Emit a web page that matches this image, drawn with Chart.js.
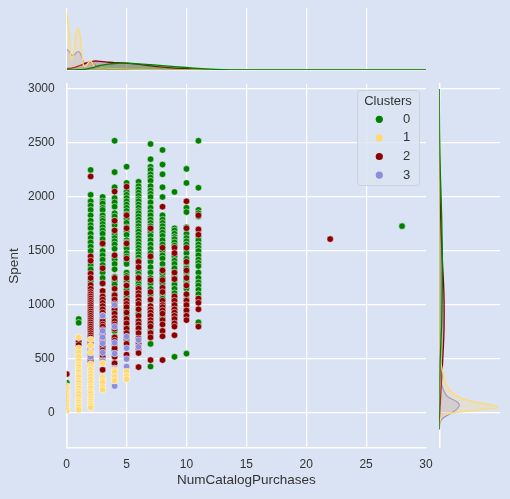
<!DOCTYPE html>
<html>
<head>
<meta charset="utf-8">
<script src="https://cdn.jsdelivr.net/npm/chart.js@4.4.1/dist/chart.umd.min.js"></script>
<style>
  html, body { margin: 0; padding: 0; background: #DAE3F3; }
  #wrap { position: relative; width: 510px; height: 499px; }
  #wrap canvas { position: absolute; left: 0; top: 0; }
</style>
</head>
<body>
<div id="wrap">
  <canvas id="main" width="510" height="499"></canvas>
  <canvas id="top" width="510" height="499"></canvas>
  <canvas id="side" width="510" height="499"></canvas>
</div>
<script>
const xTicks = [0, 5, 10, 15, 20, 25, 30];
const yTicks = [0, 500, 1000, 1500, 2000, 2500, 3000];
const clusterNames = ["0", "1", "2", "3"];
const clusterColors = ["#008000", "#FFD972", "#8B0000", "#8C8CDA"];

// NumCatalogPurchases -> list of Spent values, per cluster
const cluster0 = [
  [0, [280]],
  [1, [870, 835]],
  [2, [2250, 2020, 1960, 1920, 1880, 1830, 1780, 1740, 1710, 1660, 1620, 1580, 1540, 1500, 1370, 1330, 1220, 1160, 1000, 940, 830, 780, 700]],
  [3, [2000, 1960, 1940, 1900, 1880, 1830, 1800, 1780, 1750, 1720, 1690, 1660, 1610, 1560, 1500, 1460, 1420, 1370, 1300, 1250, 1200, 1130, 1050, 980, 920, 840, 760]],
  [4, [2520, 2230, 2090, 1990, 1950, 1910, 1850, 1820, 1780, 1740, 1690, 1650, 1620, 1590, 1560, 1520, 1450, 1420, 1380, 1330, 1260, 1220, 1190, 1100, 1060, 1020, 950, 880, 840, 760, 700, 580]],
  [5, [2280, 2130, 2050, 2020, 1990, 1960, 1930, 1900, 1870, 1840, 1800, 1760, 1720, 1680, 1650, 1600, 1580, 1540, 1520, 1480, 1450, 1400, 1380, 1300, 1270, 1220, 1180, 1140, 1080, 1040, 990, 950, 900, 840, 800, 760, 680]],
  [6, [2140, 2100, 2070, 2040, 2010, 1980, 1960, 1930, 1900, 1870, 1850, 1820, 1790, 1760, 1730, 1700, 1680, 1650, 1620, 1590, 1560, 1530, 1500, 1470, 1440, 1410, 1380, 1320, 1290, 1260, 1230, 1200, 1170, 1140, 1110, 1080, 1000, 960, 920, 860, 780]],
  [7, [2490, 2350, 2280, 2250, 2210, 2180, 2150, 2100, 2060, 2030, 2000, 1950, 1900, 1860, 1830, 1790, 1760, 1730, 1700, 1670, 1640, 1600, 1560, 1520, 1480, 1440, 1400, 1350, 1300, 1250, 1200, 1150, 1100, 1040, 960, 920, 880, 820, 760, 640, 430]],
  [8, [2435, 2300, 2210, 2090, 2000, 1830, 1790, 1760, 1730, 1700, 1670, 1640, 1600, 1560, 1500, 1460, 1430, 1380, 1330, 1290, 1250, 1200, 1150, 1100, 1060, 1010, 960, 880]],
  [9, [2046, 1710, 1690, 1660, 1630, 1610, 1580, 1550, 1450, 1410, 1380, 1340, 1300, 1260, 1230, 1190, 1150, 1110, 1070, 1040, 1000, 960, 930, 880, 520]],
  [10, [2260, 2130, 1900, 1860, 1720, 1660, 1620, 1590, 1560, 1520, 1480, 1430, 1380, 1340, 1300, 1260, 1220, 1190, 1150, 1100, 1050, 1000, 950, 900, 550]],
  [11, [2520, 2085, 1880, 1850, 1820, 1630, 1600, 1560, 1530, 1500, 1460, 1420, 1390, 1360, 1300, 1250, 1210, 1180, 1140, 1100, 1060, 1030, 840, 800]],
  [28, [1730]]
];
const cluster1 = [
  [0, [250, 230, 200, 180, 160, 140, 120, 100, 80, 60, 40, 20]],
  [1, [700, 600, 560, 520, 480, 450, 430, 400, 380, 350, 330, 300, 280, 250, 230, 200, 180, 150, 120, 100, 75, 55, 30]],
  [2, [680, 620, 560, 450, 420, 400, 370, 340, 310, 280, 250, 230, 200, 180, 150, 130, 110, 90, 70, 50]],
  [3, [460, 330, 300, 280, 240, 215]],
  [4, [400, 380, 335, 300]],
  [5, [383, 340, 313]]
];
const cluster2 = [
  [0, [360]],
  [1, [660, 630, 560]],
  [2, [2190, 1450, 1410, 1290, 1250, 1185, 1150, 1120, 1100, 1080, 1060, 1040, 1020, 1000, 980, 960, 940, 920, 900, 880, 860, 840, 820, 800, 780, 760, 740, 720, 700, 680, 660, 640, 620, 600, 580, 560, 540, 520, 500, 480, 460, 440]],
  [3, [1570, 1340, 1200, 1130, 1080, 1050, 1020, 990, 960, 930, 900, 870, 850, 820, 800, 770, 740, 710, 690, 660, 640, 610, 580, 550, 520, 490, 470, 400]],
  [4, [2050, 1780, 1690, 1460, 1250, 1150, 1090, 1050, 1010, 985, 960, 920, 880, 850, 820, 780, 700, 670, 640, 600, 520, 460]],
  [5, [2095, 1830, 1710, 1570, 1430, 1250, 1180, 1110, 1040, 1010, 980, 930, 870, 830, 780, 740, 700, 640, 540]],
  [6, [1400, 1350, 1250, 1150, 1110, 1080, 1040, 1010, 960, 900, 850, 820, 785, 740, 690, 640, 600, 555, 425]],
  [7, [1710, 1450, 1230, 1120, 1050, 990, 960, 930, 900, 860, 830, 800, 740, 700, 490]],
  [8, [1910, 1530, 1320, 1230, 1160, 1120, 1040, 1000, 980, 950, 920, 860, 820, 760, 710, 490]],
  [9, [1530, 1480, 1300, 1240, 1080, 1040, 1000, 960, 930, 900, 870, 830, 800, 720]],
  [10, [1960, 1710, 1530, 1400, 1320, 1250, 1180, 1100, 1040, 1000, 950, 900, 860]],
  [11, [1830, 1700, 1650, 1060, 1020, 960, 800]],
  [22, [1610]]
];
const cluster3 = [
  [0, [210, 170, 140, 90, 60]],
  [1, [580, 550, 520, 470, 300, 250, 150, 90, 60]],
  [2, [600, 520, 380, 300, 190, 160, 140, 100]],
  [3, [900, 760, 700, 645, 560, 480]],
  [4, [1000, 800, 650, 550, 414, 250]],
  [5, [707, 600, 500, 430]],
  [6, [676, 614]]
];

// marginal KDE curves
const topGrid = [0, 0.2, 0.4, 0.6, 0.8, 1, 1.2, 1.4, 1.6, 1.8, 2, 2.2, 2.4, 2.7, 3, 3.5, 4, 4.5, 5, 6, 7, 8, 9, 10, 11, 12, 13, 14, 16, 20, 25, 30];
const topKde0 = [0, 0.001, 0.002, 0.003, 0.004, 0.005, 0.007, 0.01, 0.015, 0.022, 0.03, 0.04, 0.05, 0.07, 0.08, 0.095, 0.105, 0.11, 0.11, 0.1, 0.085, 0.07, 0.055, 0.04, 0.025, 0.013, 0.006, 0.003, 0.001, 0, 0, 0];
const topKde1 = [0.94, 0.6, 0.16, 0.3, 0.6, 0.67, 0.42, 0.08, 0.06, 0.12, 0.145, 0.1, 0.04, 0.03, 0.035, 0.025, 0.02, 0.02, 0.015, 0.01, 0.005, 0.003, 0, 0, 0, 0, 0, 0, 0, 0, 0, 0];
const topKde2 = [0.02, 0.025, 0.03, 0.04, 0.05, 0.065, 0.08, 0.095, 0.11, 0.125, 0.135, 0.14, 0.145, 0.14, 0.135, 0.125, 0.12, 0.115, 0.11, 0.09, 0.065, 0.045, 0.03, 0.02, 0.012, 0.006, 0.003, 0.001, 0, 0, 0, 0];
const topKde3 = [0.335, 0.3, 0.24, 0.24, 0.28, 0.295, 0.24, 0.13, 0.11, 0.125, 0.13, 0.11, 0.07, 0.04, 0.03, 0.02, 0.015, 0.008, 0.004, 0.001, 0, 0, 0, 0, 0, 0, 0, 0, 0, 0, 0, 0];

const sideGrid = [-150, -100, -50, 0, 25, 50, 75, 100, 150, 200, 250, 300, 400, 500, 600, 700, 800, 1000, 1200, 1400, 1600, 1800, 2000, 2200, 2400, 2600, 2800, 3000];
const sideKde0 = [0, 0, 0, 0, 0, 0, 0, 0, 0, 0.001, 0.002, 0.004, 0.01, 0.015, 0.022, 0.03, 0.038, 0.045, 0.05, 0.05, 0.046, 0.04, 0.03, 0.018, 0.01, 0.005, 0.002, 0.001];
const sideKde1 = [0, 0.005, 0.03, 0.2, 0.6, 0.97, 0.85, 0.6, 0.31, 0.19, 0.13, 0.09, 0.05, 0.012, 0.005, 0.002, 0, 0, 0, 0, 0, 0, 0, 0, 0, 0, 0, 0];
const sideKde2 = [0, 0, 0.002, 0.008, 0.01, 0.012, 0.015, 0.018, 0.022, 0.027, 0.032, 0.037, 0.047, 0.057, 0.066, 0.074, 0.079, 0.08, 0.07, 0.052, 0.036, 0.023, 0.013, 0.006, 0.002, 0.001, 0, 0];
const sideKde3 = [0.002, 0.008, 0.05, 0.2, 0.27, 0.31, 0.33, 0.3, 0.14, 0.08, 0.045, 0.03, 0.015, 0.007, 0.003, 0.001, 0, 0, 0, 0, 0, 0, 0, 0, 0, 0, 0, 0];

Chart.defaults.font.family = '"Liberation Sans", Arial, sans-serif';
Chart.defaults.font.size = 12;
Chart.defaults.color = "#333";

const clusters = [cluster0, cluster1, cluster2, cluster3];
const drawOrder = [4, 1, 3, 2]; // green at the back
const toPoints = cols => cols.flatMap(([x, ys]) => ys.map(y => ({ x: x, y: y })));
function fade(hex, a) {
  const n = parseInt(hex.slice(1), 16);
  return "rgba(" + (n >> 16) + "," + ((n >> 8) & 255) + "," + (n & 255) + "," + a + ")";
}
const setTicks = vals => s => { s.ticks = vals.map(v => ({ value: v })); };
const plain = v => String(v);

const legendBox = {
  id: "legendBox",
  afterDraw(chart) {
    const ctx = chart.ctx;
    ctx.save();
    ctx.beginPath();
    ctx.roundRect(357.5, 90.5, 62, 95, 3);
    ctx.fillStyle = "rgba(218,227,243,0.8)";
    ctx.fill();
    ctx.strokeStyle = "#cdd1d8";
    ctx.lineWidth = 1;
    ctx.stroke();
    ctx.fillStyle = "#333";
    ctx.font = '13px "Liberation Sans", Arial, sans-serif';
    ctx.textAlign = "center";
    ctx.textBaseline = "middle";
    ctx.fillText("Clusters", 388, 101);
    chart.data.datasets.forEach((ds, i) => {
      const y = 119.3 + i * 18.6;
      ctx.beginPath();
      ctx.arc(379.3, y, 3.6, 0, Math.PI * 2);
      ctx.fillStyle = ds.backgroundColor;
      ctx.fill();
      ctx.fillStyle = "#333";
      ctx.fillText(ds.label, 406.5, y);
    });
    ctx.restore();
  }
};

new Chart(document.getElementById("main"), {
  type: "scatter",
  data: {
    datasets: clusters.map((c, i) => ({
      label: clusterNames[i],
      data: toPoints(c),
      backgroundColor: clusterColors[i],
      borderColor: "rgba(255,255,255,0.85)",
      borderWidth: 0.6,
      pointRadius: 3.3,
      order: drawOrder[i],
      clip: 0,
    })),
  },
  options: {
    responsive: false,
    animation: false,
    layout: { padding: { left: 0, right: 84, top: 84, bottom: 0 } },
    plugins: { legend: { display: false }, tooltip: { enabled: false } },
    scales: {
      x: {
        type: "linear",
        min: 0,
        max: 30,
        afterBuildTicks: setTicks(xTicks),
        afterFit: s => { s.height = 51; },
        grid: {
          color: c => (c.tick && c.tick.value === 30 ? "rgba(0,0,0,0)" : "#fff"),
          lineWidth: 1.2,
          drawTicks: false,
        },
        border: { color: "#fff", width: 1.5 },
        ticks: { padding: 9, callback: plain },
        title: {
          display: true,
          text: "NumCatalogPurchases",
          font: { size: 13.5 },
          padding: { top: 0, bottom: 11 },
        },
      },
      y: {
        min: -324,
        max: 3046,
        afterBuildTicks: setTicks(yTicks),
        afterFit: s => { s.width = 66.7; },
        grid: { color: "#fff", lineWidth: 1.2, drawTicks: false },
        border: { color: "#fff", width: 1.5 },
        ticks: { padding: 12, callback: plain },
        title: {
          display: true,
          text: "Spent",
          font: { size: 13.5 },
          padding: { top: 6, bottom: 0 },
        },
      },
    },
  },
  plugins: [legendBox],
});

const topCurves = [topKde0, topKde1, topKde2, topKde3];
new Chart(document.getElementById("top"), {
  type: "line",
  data: {
    datasets: topCurves.map((d, i) => ({
      data: topGrid.map((x, k) => ({ x: x, y: d[k] })),
      borderColor: clusterColors[i],
      backgroundColor: fade(clusterColors[i], 0.25),
      fill: "origin",
      borderWidth: 1.3,
      pointRadius: 0,
      cubicInterpolationMode: "monotone",
    })),
  },
  options: {
    responsive: false,
    animation: false,
    layout: { padding: { left: 66.7, right: 84, top: 8, bottom: 429 } },
    plugins: { legend: { display: false }, tooltip: { enabled: false } },
    scales: {
      x: {
        type: "linear",
        min: 0,
        max: 30,
        afterBuildTicks: setTicks([0, 5, 10, 15, 20, 25]),
        afterFit: s => { s.height = 0; },
        grid: { color: "#fff", lineWidth: 1.2, drawTicks: false },
        border: { color: "#fff", width: 1.5 },
        ticks: { display: false },
      },
      y: { display: false, min: 0, max: 1 },
    },
  },
});

const sideCurves = [sideKde0, sideKde1, sideKde2, sideKde3];
new Chart(document.getElementById("side"), {
  type: "line",
  data: {
    datasets: sideCurves.map((d, i) => ({
      data: sideGrid.map((v, k) => ({ x: d[k], y: v })),
      borderColor: clusterColors[i],
      backgroundColor: fade(clusterColors[i], 0.25),
      fill: "origin",
      borderWidth: 1.3,
      pointRadius: 0,
      cubicInterpolationMode: "monotone",
    })),
  },
  options: {
    responsive: false,
    animation: false,
    indexAxis: "y",
    layout: { padding: { left: 439.3, right: 10, top: 84, bottom: 51 } },
    plugins: { legend: { display: false }, tooltip: { enabled: false } },
    scales: {
      x: { type: "linear", display: false, min: 0, max: 1 },
      y: {
        type: "linear",
        min: -324,
        max: 3046,
        afterBuildTicks: setTicks(yTicks),
        afterFit: s => { s.width = 0; },
        grid: { color: "#fff", lineWidth: 1.2, drawTicks: false },
        border: { color: "#fff", width: 1.5 },
        ticks: { display: false },
      },
    },
  },
});
</script>
</body>
</html>
